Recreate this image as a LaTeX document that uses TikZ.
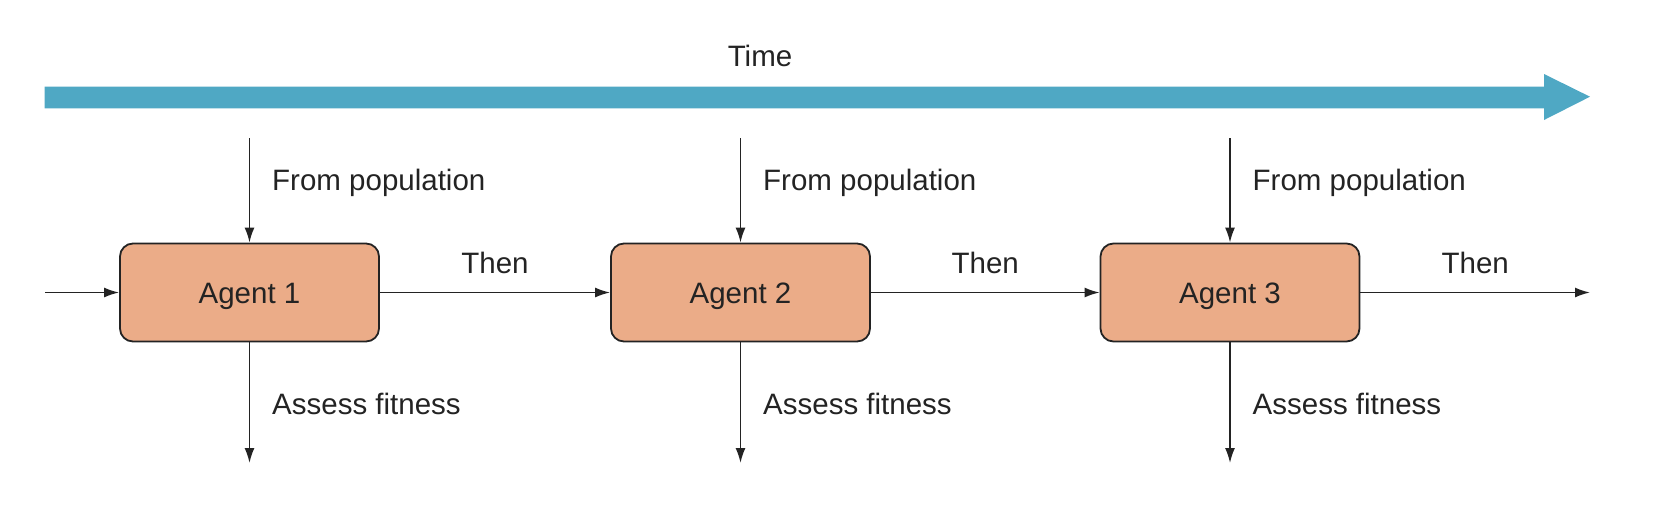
\documentclass[tikz,border=0pt]{standalone}
\usepackage{fontspec}
\setmainfont{Liberation Sans}
\usetikzlibrary{arrows.meta}
\definecolor{timeblue}{RGB}{79,168,196}
\definecolor{agentfill}{RGB}{235,172,136}
\definecolor{linedark}{RGB}{35,35,35}
\tikzset{
  agentbox/.style={draw=linedark, fill=agentfill, line width=1.8pt, rounded corners=13pt,
    minimum width=259pt, minimum height=98pt, inner sep=0pt, text height=21.6pt, text depth=0pt,
    font=\fontsize{29.5}{32}\selectfont, text=linedark},
  flow/.style={draw=linedark, line width=1.7pt, -{Latex[length=15pt,width=10pt]}},
  lbl/.style={font=\fontsize{29.5}{32}\selectfont, text=linedark, inner sep=0pt},
}
\begin{document}
\begin{tikzpicture}[x=1pt,y=-1pt]
\useasboundingbox (0,0) rectangle (1660,512);
% time arrow
\fill[timeblue] (44.5,86.7) -- (1544,86.7) -- (1544,74) -- (1590,96.7) -- (1544,120) -- (1544,108.3) -- (44.5,108.3) -- cycle;
\node[lbl, anchor=base] (time) at (760,66) {Time};
% agents
\node[agentbox] (a1) at (249.5,292.5) {Agent 1};
\node[agentbox] (a2) at (740.5,292.5) {Agent 2};
\node[agentbox] (a3) at (1230,292.5) {Agent 3};
% free ends
\coordinate (in0) at (45,292.5);
\coordinate (out3) at (1590,292.5);
\foreach \i/\x in {1/249.5,2/740.5,3/1230}{
  \coordinate (top\i) at (\x,138);
  \coordinate (bot\i) at (\x,463);
}
\draw[flow] (in0) -- (a1);
\draw[flow] (a1) -- node[lbl, above=19pt, anchor=base] (then1) {Then} (a2);
\draw[flow] (a2) -- node[lbl, above=19pt, anchor=base] (then2) {Then} (a3);
\draw[flow] (a3) -- node[lbl, above=19pt, anchor=base] (then3) {Then} (out3);
\foreach \i in {1,2,3}{
  \draw[flow] (top\i) -- (a\i.north);
  \draw[flow] (a\i.south) -- (bot\i);
}
\node[lbl, anchor=base west] (fp1) at (272,190) {From population};
\node[lbl, anchor=base west] (fp2) at (763,190) {From population};
\node[lbl, anchor=base west] (fp3) at (1252.5,190) {From population};
\node[lbl, anchor=base west] (af1) at (272,414) {Assess fitness};
\node[lbl, anchor=base west] (af2) at (763,414) {Assess fitness};
\node[lbl, anchor=base west] (af3) at (1252.5,414) {Assess fitness};
\end{tikzpicture}
\end{document}
